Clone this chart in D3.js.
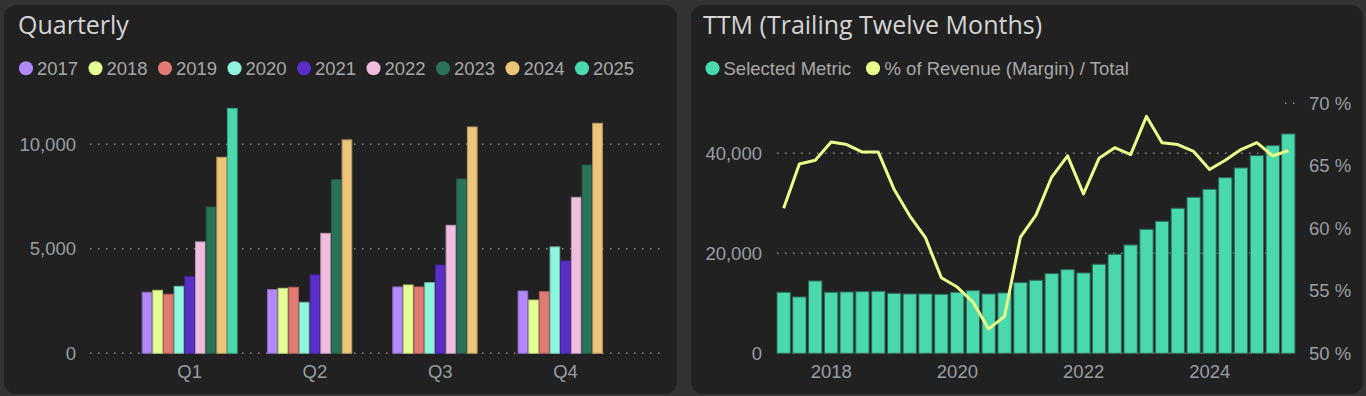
<!DOCTYPE html>
<html lang="en">
<head>
<meta charset="utf-8">
<title>Quarterly and TTM</title>
<script src="https://d3js.org/d3.v7.min.js"></script>
<style>
  body { margin: 0; background: #333; }
  svg { display: block; }
  text { font-family: "Liberation Sans", Arial, sans-serif; }
  .title { font-family: "Open Sans", "Segoe UI", sans-serif; font-size: 25px; fill: #d4d4d4; }
  .legend text { font-size: 18.5px; fill: #a8a8a8; }
  .tick-label { font-size: 18.5px; fill: #9a9ea3; }
</style>
</head>
<body>
<script>
// ---- data ----
var quarters = ["Q1", "Q2", "Q3", "Q4"];
var years = ["2017", "2018", "2019", "2020", "2021", "2022", "2023", "2024", "2025"];
var yearColors = ["#b388f9", "#e6ff94", "#e07a72", "#8ff5dc", "#5a2fc8", "#f0bde0", "#2b7358", "#ecc47a", "#4ad8ad"];
// quarterly values, one array per year (Q1..Q4), null = no data
var v2017 = [2920, 3050, 3175, 2980];
var v2018 = [3015, 3110, 3270, 2550];
var v2019 = [2825, 3160, 3175, 2950];
var v2020 = [3205, 2440, 3380, 5090];
var v2021 = [3670, 3750, 4225, 4420];
var v2022 = [5330, 5740, 6125, 7465];
var v2023 = [7000, 8310, 8340, 9010];
var v2024 = [9380, 10210, 10830, 11005];
var v2025 = [11720, null, null, null];
var yearValues = [v2017, v2018, v2019, v2020, v2021, v2022, v2023, v2024, v2025];
var quarterlyTicks = [0, 5000, 10000];

// TTM: quarter end dates 2017Q1 .. 2025Q1
var ttmQuarters = ["2017-03-31", "2017-06-30", "2017-09-30", "2017-12-31",
  "2018-03-31", "2018-06-30", "2018-09-30", "2018-12-31",
  "2019-03-31", "2019-06-30", "2019-09-30", "2019-12-31",
  "2020-03-31", "2020-06-30", "2020-09-30", "2020-12-31",
  "2021-03-31", "2021-06-30", "2021-09-30", "2021-12-31",
  "2022-03-31", "2022-06-30", "2022-09-30", "2022-12-31",
  "2023-03-31", "2023-06-30", "2023-09-30", "2023-12-31",
  "2024-03-31", "2024-06-30", "2024-09-30", "2024-12-31",
  "2025-03-31"];
var ttmMetric = [12200, 11270, 14470, 12200, 12270, 12330, 12400, 12000,
  11870, 11870, 11800, 12200, 12530, 11870, 12070, 14130,
  14600, 15930, 16730, 16070, 17800, 19800, 21670, 24800,
  26400, 29000, 31200, 32800, 35130, 37070, 39530, 41530,
  43870];
var ttmMargin = [61.6, 65.15, 65.45, 66.9, 66.7, 66.1, 66.1, 63.1,
  61.0, 59.25, 56.05, 55.3, 54.1, 51.95, 52.95, 59.3,
  61.05, 64.1, 65.8, 62.75, 65.6, 66.45, 65.9, 68.95,
  66.85, 66.7, 66.15, 64.7, 65.45, 66.3, 66.85, 65.8,
  66.2];
var metricTicks = [0, 20000, 40000];
var marginTicks = [50, 55, 60, 65, 70];
var yearTicks = ["2018", "2020", "2022", "2024"];

var W = 1366, H = 396;
var svg = d3.select("body").append("svg").attr("width", W).attr("height", H);
svg.append("rect").attr("width", W).attr("height", H).attr("fill", "#333");

// panels
svg.append("rect").attr("x", 4).attr("y", 5).attr("width", 673).attr("height", 389)
  .attr("rx", 12).attr("fill", "#212121");
svg.append("rect").attr("x", 691).attr("y", 5).attr("width", 672).attr("height", 389)
  .attr("rx", 12).attr("fill", "#212121");

function dotted(g, x1, x2, y) {
  g.append("line").attr("x1", x1).attr("x2", x2).attr("y1", y).attr("y2", y)
    .attr("stroke", "#8a8a8a").attr("stroke-width", 1.5)
    .attr("stroke-dasharray", "1.5,6.5");
}

// ================= Quarterly =================
var left = svg.append("g");
left.append("text").attr("class", "title").attr("x", 18).attr("y", 34).text("Quarterly");

var legL = left.append("g").attr("class", "legend");
years.forEach(function(y, i) {
  var cx = 26 + i * 69.5;
  legL.append("circle").attr("cx", cx).attr("cy", 68.3).attr("r", 7).attr("fill", yearColors[i]);
  legL.append("text").attr("x", cx + 11).attr("y", 74.5).text(y);
});

var yQ = d3.scaleLinear().domain([0, 10000]).range([353.3, 144.3]);
var x0 = d3.scaleBand().domain(quarters).range([127, 628.2]).paddingInner(0.234).paddingOuter(0.117);
var x1 = d3.scaleBand().domain(years).range([0, x0.bandwidth()]);

quarterlyTicks.forEach(function(t) {
  dotted(left, 90, 660, yQ(t));
  left.append("text").attr("class", "tick-label").attr("x", 76).attr("y", yQ(t))
    .attr("dy", "0.36em").attr("text-anchor", "end").text(d3.format(",")(t));
});

var groups = left.selectAll("g.q").data(quarters).enter().append("g")
  .attr("class", "q").attr("transform", function(q) { return "translate(" + x0(q) + ",0)"; });
groups.selectAll("rect").data(function(q, qi) {
    return years.map(function(y, yi) { return { year: y, idx: yi, v: yearValues[yi][qi] }; })
      .filter(function(d) { return d.v != null; });
  })
  .enter().append("rect")
  .attr("x", function(d) { return x1(d.year) + 0.5; })
  .attr("y", function(d) { return yQ(d.v); })
  .attr("width", x1.bandwidth() - 1)
  .attr("height", function(d) { return yQ(0) - yQ(d.v); })
  .attr("fill", function(d) { return yearColors[d.idx]; })
  .attr("stroke", function(d) { return d3.color(yearColors[d.idx]).darker(0.7); })
  .attr("stroke-width", 1);

left.selectAll("text.qlab").data(quarters).enter().append("text")
  .attr("class", "tick-label qlab")
  .attr("x", function(q) { return x0(q) + x0.bandwidth() / 2; })
  .attr("y", 378).attr("text-anchor", "middle").text(function(q) { return q; });

// ================= TTM =================
var right = svg.append("g");
right.append("text").attr("class", "title").attr("x", 703).attr("y", 34).text("TTM (Trailing Twelve Months)");

var legR = right.append("g").attr("class", "legend");
legR.append("circle").attr("cx", 712.5).attr("cy", 68.3).attr("r", 7).attr("fill", "#4ad8ad");
legR.append("text").attr("x", 723.5).attr("y", 74.5).text("Selected Metric");
legR.append("circle").attr("cx", 873).attr("cy", 68.3).attr("r", 7).attr("fill", "#eaff8b");
legR.append("text").attr("x", 884.5).attr("y", 74.5).text("% of Revenue (Margin) / Total");

var parse = d3.timeParse("%Y-%m-%d");
var dates = ttmQuarters.map(parse);
var xT = d3.scaleTime().domain([dates[0], dates[dates.length - 1]]).range([783.65, 1288.3]);
var yM = d3.scaleLinear().domain([0, 50000]).range([353.3, 103.3]);
var yP = d3.scaleLinear().domain([50, 70]).range([353.3, 103.3]);

metricTicks.forEach(function(t) {
  dotted(right, 777, 1297, yM(t));
  right.append("text").attr("class", "tick-label").attr("x", 762).attr("y", yM(t))
    .attr("dy", "0.36em").attr("text-anchor", "end").text(d3.format(",")(t));
});
dotted(right, 1285, 1297, yP(70));
marginTicks.forEach(function(t) {
  right.append("text").attr("class", "tick-label").attr("x", 1309).attr("y", yP(t))
    .attr("dy", "0.36em").attr("text-anchor", "start").text(t + " %");
});

var barW = 13.3;
right.selectAll("rect.ttm").data(ttmMetric).enter().append("rect")
  .attr("class", "ttm")
  .attr("x", function(d, i) { return xT(dates[i]) - barW / 2; })
  .attr("y", function(d) { return yM(d); })
  .attr("width", barW)
  .attr("height", function(d) { return yM(0) - yM(d); })
  .attr("fill", "#4ad8ad")
  .attr("stroke", "#2e6b58").attr("stroke-width", 1);

var line = d3.line()
  .x(function(d, i) { return xT(dates[i]); })
  .y(function(d) { return yP(d); });
right.append("path").datum(ttmMargin)
  .attr("d", line).attr("fill", "none")
  .attr("stroke", "#eaff8b").attr("stroke-width", 3).attr("stroke-linejoin", "round");

right.selectAll("text.ylab").data(yearTicks).enter().append("text")
  .attr("class", "tick-label ylab")
  .attr("x", function(y) { return xT(parse(y + "-01-01")); })
  .attr("y", 378).attr("text-anchor", "middle").text(function(y) { return y; });
</script>
</body>
</html>
